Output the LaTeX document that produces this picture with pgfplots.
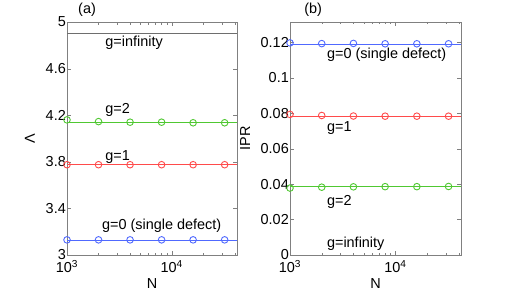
\documentclass[border=0pt]{standalone}
\usepackage{fontspec}
\setmainfont{Liberation Sans}
\usepackage{pgfplots}
\pgfplotsset{compat=1.18}
\definecolor{cblue}{RGB}{80,105,255}
\definecolor{cred}{RGB}{255,75,75}
\definecolor{cgreen}{RGB}{80,200,50}
\definecolor{cframe}{RGB}{128,128,128}
\definecolor{cinf}{RGB}{110,110,110}
\begin{document}
\begin{tikzpicture}[font=\fontsize{14.5}{17}\selectfont]
\begin{axis}[at={(0,0)}, anchor=south west,
  scale only axis, width=170bp, height=233bp,
  xmode=log, xmin=1000, xmax=42000,
  xtick={1000,10000}, xticklabels={10\textsuperscript{3},10\textsuperscript{4}},
  minor xtick={2000,3000,4000,5000,6000,7000,8000,9000,20000,30000,40000},
  tick align=inside, axis line style={cframe}, tick style={cframe},
  major tick length=4bp, minor tick length=2.5bp,
  yticklabel style={/pgf/number format/assume math mode=true, inner xsep=1pt, inner ysep=0pt},
  xticklabel style={inner ysep=0.5pt, yshift=-4.5pt},
  clip=false,
  xlabel={N}, xlabel style={at={(axis description cs:0.5,-0.122)}, anchor=center},
  ymin=3, ymax=5, ytick={3,3.4,3.8,4.2,4.6,5},
  ylabel={Λ}, ylabel style={at={(axis description cs:-0.218,0.5)}, anchor=center}]
\addplot[cinf, no marks, line width=0.9bp] coordinates {(1000,4.903) (42000,4.903)};
\addplot[cgreen, no marks, line width=0.9bp] coordinates {(1000,4.135) (42000,4.135)};
\addplot[cgreen, only marks, mark=o, mark size=3.3bp, mark options={line width=0.9bp}] coordinates {(1000,4.16) (2000,4.145) (4000,4.14) (8000,4.14) (16000,4.135) (32000,4.135)};
\addplot[cred, no marks, line width=0.9bp] coordinates {(1000,3.773) (42000,3.773)};
\addplot[cred, only marks, mark=o, mark size=3.3bp, mark options={line width=0.9bp}] coordinates {(1000,3.775) (2000,3.775) (4000,3.775) (8000,3.775) (16000,3.775) (32000,3.775)};
\addplot[cblue, no marks, line width=0.9bp] coordinates {(1000,3.129) (42000,3.129)};
\addplot[cblue, only marks, mark=o, mark size=3.3bp, mark options={line width=0.9bp}] coordinates {(1000,3.13) (2000,3.13) (4000,3.13) (8000,3.13) (16000,3.13) (32000,3.13)};
\node[anchor=west] at (axis cs:2150,4.82) {g=infinity};
\node[anchor=west] at (axis cs:2150,4.245) {g=2};
\node[anchor=west] at (axis cs:2150,3.84) {g=1};
\node[anchor=west] at (axis cs:2000,3.25) {g=0 (single defect)};
\node at (axis description cs:0.118,1.052) {(a)};
\end{axis}
\begin{axis}[at={(223bp,0)}, anchor=south west,
  scale only axis, width=171bp, height=233bp,
  xmode=log, xmin=1000, xmax=42000,
  xtick={1000,10000}, xticklabels={10\textsuperscript{3},10\textsuperscript{4}},
  minor xtick={2000,3000,4000,5000,6000,7000,8000,9000,20000,30000,40000},
  tick align=inside, axis line style={cframe}, tick style={cframe},
  major tick length=4bp, minor tick length=2.5bp,
  yticklabel style={/pgf/number format/assume math mode=true, /pgf/number format/fixed, /pgf/number format/precision=2, inner xsep=1pt, inner ysep=0pt},
  xticklabel style={inner ysep=0.5pt, yshift=-4.5pt},
  clip=false,
  xlabel={N}, xlabel style={at={(axis description cs:0.5,-0.122)}, anchor=center},
  ymin=0, ymax=0.1316, ytick={0,0.02,0.04,0.06,0.08,0.1,0.12},
  scaled y ticks=false,
  ylabel={IPR}, ylabel style={at={(axis description cs:-0.263,0.5)}, anchor=center}]
\addplot[cblue, no marks, line width=0.9bp] coordinates {(1000,0.1191) (42000,0.1191)};
\addplot[cblue, only marks, mark=o, mark size=3.3bp, mark options={line width=0.9bp}] coordinates {(1000,0.1198) (2000,0.1194) (4000,0.1195) (8000,0.1193) (16000,0.1193) (32000,0.1193)};
\addplot[cred, no marks, line width=0.9bp] coordinates {(1000,0.0780) (42000,0.0780)};
\addplot[cred, only marks, mark=o, mark size=3.3bp, mark options={line width=0.9bp}] coordinates {(1000,0.0794) (2000,0.0788) (4000,0.0785) (8000,0.0784) (16000,0.0784) (32000,0.0784)};
\addplot[cgreen, no marks, line width=0.9bp] coordinates {(1000,0.0387) (42000,0.0387)};
\addplot[cgreen, only marks, mark=o, mark size=3.3bp, mark options={line width=0.9bp}] coordinates {(1000,0.0378) (2000,0.0383) (4000,0.0385) (8000,0.0386) (16000,0.0386) (32000,0.0387)};
\node[anchor=west] at (axis cs:2080,0.113) {g=0 (single defect)};
\node[anchor=west] at (axis cs:2080,0.0716) {g=1};
\node[anchor=west] at (axis cs:2080,0.0297) {g=2};
\node[anchor=west] at (axis cs:2080,0.0064) {g=infinity};
\node at (axis description cs:0.135,1.052) {(b)};
\end{axis}
\pgfresetboundingbox
\path (-67bp,-39bp) rectangle (443bp,255bp);
\end{tikzpicture}
\end{document}
